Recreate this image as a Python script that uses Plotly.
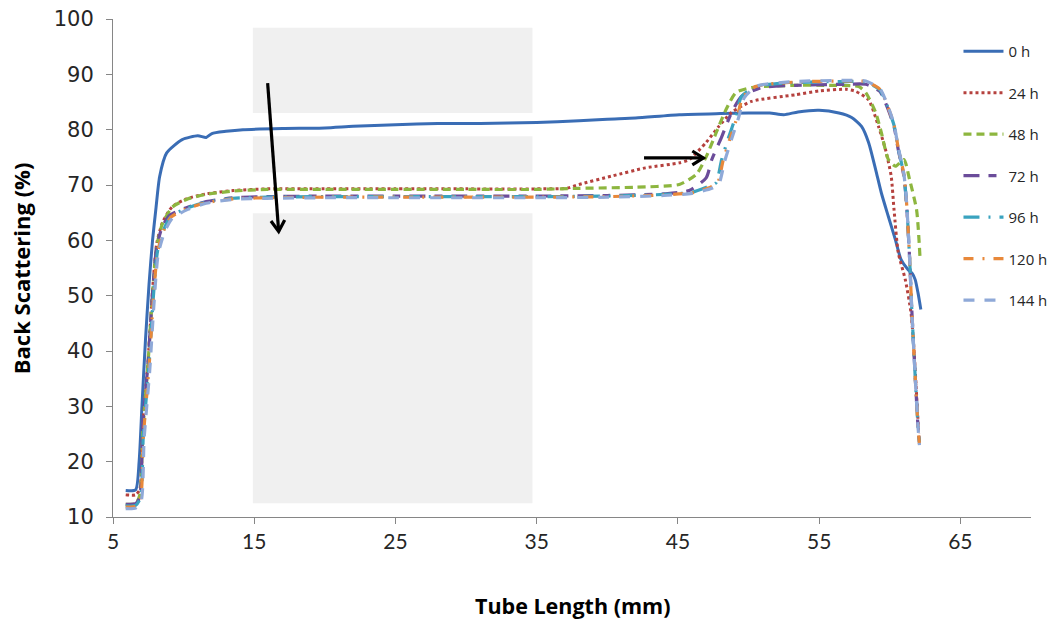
import math
import plotly.graph_objects as go

# ---------------- data ----------------
labels = ["0 h", "24 h", "48 h", "72 h", "96 h", "120 h", "144 h"]

x_0h = [5.9, 6.6, 6.85, 7.05, 7.3, 7.55, 7.8, 8.05, 8.3, 8.8, 9.9, 11.0, 11.6, 12.0, 13.0, 14.2, 17, 20, 22, 25, 28, 31, 35, 38, 40, 42, 45.1, 48, 50, 51.5, 52.5, 53.5, 55.0, 56.4, 57.3, 58.0, 58.5, 59.0, 59.4, 59.9, 60.4, 60.8, 61.3, 61.6, 61.8, 62.0, 62.2]
y_0h = [14.8, 14.9, 20, 30, 42, 52, 60, 66, 71.5, 75.8, 78.2, 78.9, 78.6, 79.3, 79.7, 80.0, 80.2, 80.3, 80.6, 80.9, 81.1, 81.1, 81.3, 81.6, 81.9, 82.1, 82.7, 82.9, 83.0, 83.0, 82.7, 83.2, 83.5, 83.0, 82.2, 80.6, 77.7, 72.8, 68.6, 64.3, 60.1, 56.5, 54.7, 54.0, 52.9, 50.5, 47.5]

x_24h = [5.9, 6.6, 6.9, 7.1, 7.5, 7.8, 8.1, 8.5, 9.2, 10.2, 11.6, 13.5, 15.9, 20, 25, 30, 35, 37.1, 38.0, 40.3, 42.7, 45.1, 45.8, 47.0, 47.9, 48.8, 50.2, 53.3, 55.0, 56.9, 57.6, 58.5, 59.2, 59.7, 60.1, 60.3, 60.6, 61.1, 61.5, 61.7, 61.9, 62.05]
y_24h = [14.0, 14.0, 15, 26, 39, 51, 59.5, 63.2, 66.1, 67.5, 68.4, 69.0, 69.3, 69.3, 69.3, 69.3, 69.3, 69.4, 70.1, 71.6, 73.1, 74.0, 74.6, 77.7, 80.6, 83.1, 85.1, 86.3, 87.0, 87.3, 86.9, 85.4, 80.6, 76.4, 71.6, 65.6, 57.8, 52.9, 47, 40.8, 32, 25]

x_48h = [5.9, 6.6, 6.9, 7.1, 7.5, 7.8, 8.1, 8.5, 9.2, 10.2, 11.6, 13.5, 15.9, 20, 25, 30, 35, 38, 42, 45.1, 46.3, 47.0, 47.7, 48.4, 49.1, 50.2, 53, 56, 57.8, 58.3, 59.0, 59.4, 59.9, 60.4, 61.0, 61.4, 61.9, 62.15]
y_48h = [12.3, 12.4, 14, 25, 38.5, 50.5, 59, 63.0, 66.0, 67.4, 68.3, 68.9, 69.2, 69.2, 69.2, 69.2, 69.2, 69.4, 69.6, 70.1, 71.9, 75.1, 79.4, 83.6, 86.7, 87.6, 88.0, 88.0, 87.8, 86.7, 83.1, 79.5, 74.6, 73.4, 74.6, 71.0, 65.5, 56.5]

x_72h = [5.9, 6.6, 6.9, 7.1, 7.5, 7.8, 8.1, 8.5, 9.0, 10.2, 11.6, 13.5, 15.9, 20, 25, 30, 35, 40, 44, 45.8, 47.0, 47.4, 48.1, 48.8, 49.5, 50.9, 53.3, 56.9, 58.3, 59.3, 59.8, 60.3, 60.6, 61.0, 61.2, 61.4, 61.55, 61.7, 61.85, 62.0, 62.1]
y_72h = [12.3, 12.4, 13.6, 26.3, 38.4, 50.5, 58.9, 62.5, 64.5, 65.9, 67.0, 67.7, 67.9, 68.0, 68.0, 68.0, 68.0, 68.1, 68.4, 69.0, 71.3, 74.6, 78.7, 83.1, 86.0, 87.6, 88.0, 88.2, 88.2, 86.9, 84.2, 80.6, 76.4, 71.6, 66.1, 57.0, 48.0, 40.2, 33.0, 26.3, 23.5]

x_96h = [5.9, 6.6, 6.95, 7.15, 7.55, 7.85, 8.15, 8.6, 9.1, 10.2, 11.6, 13.5, 15.9, 20, 25, 30, 35, 40, 44, 46.0, 47.2, 47.7, 48.1, 48.6, 49.1, 49.5, 50.5, 53.3, 56.9, 58.3, 59.3, 59.8, 60.3, 60.6, 61.0, 61.2, 61.4, 61.55, 61.7, 61.85, 62.0, 62.1]
y_96h = [12.0, 12.1, 13.5, 25, 37.5, 49.5, 58, 62, 64.3, 65.8, 66.9, 67.6, 67.8, 67.9, 67.9, 67.9, 67.9, 68.0, 68.3, 68.7, 69.8, 70.4, 74.6, 78.7, 82.4, 86.0, 87.8, 88.5, 88.7, 88.6, 87.2, 84.5, 80.8, 76.6, 71.8, 66.3, 57.0, 48.0, 40.2, 33.0, 26.3, 23.5]

x_120h = [5.9, 6.6, 6.95, 7.15, 7.55, 7.85, 8.15, 8.6, 9.1, 10.2, 11.6, 13.5, 15.9, 20, 25, 30, 35, 40, 44, 46.0, 47.3, 47.8, 48.2, 48.7, 49.2, 49.6, 50.5, 53.3, 56.9, 58.3, 59.3, 59.8, 60.3, 60.6, 61.0, 61.2, 61.4, 61.55, 61.7, 61.85, 62.0, 62.1]
y_120h = [11.8, 11.9, 13.3, 24.5, 37, 49, 57.8, 61.8, 64.2, 65.7, 66.8, 67.5, 67.7, 67.8, 67.8, 67.8, 67.8, 67.9, 68.2, 68.6, 69.6, 70.3, 74.4, 78.5, 82.3, 85.9, 87.8, 88.6, 88.8, 88.7, 87.3, 84.6, 80.9, 76.7, 71.9, 66.4, 57.0, 48.0, 40.2, 33.0, 26.3, 23.2]

x_144h = [5.9, 6.6, 7.0, 7.2, 7.6, 7.9, 8.2, 8.65, 9.2, 10.3, 11.6, 13.5, 15.9, 20, 25, 30, 35, 40, 44, 46.0, 47.4, 47.9, 48.3, 48.8, 49.3, 49.7, 50.6, 53.3, 56.9, 58.3, 59.3, 59.8, 60.3, 60.6, 61.0, 61.2, 61.4, 61.55, 61.7, 61.85, 62.0, 62.1]
y_144h = [11.5, 11.6, 13.0, 24, 36.5, 48.5, 57.5, 61.5, 64.0, 65.6, 66.7, 67.4, 67.6, 67.7, 67.7, 67.7, 67.7, 67.8, 68.1, 68.5, 69.4, 70.2, 74.2, 78.3, 82.2, 85.8, 87.9, 88.7, 88.9, 88.8, 87.4, 84.7, 81.0, 76.8, 72.0, 66.5, 57.0, 48.0, 40.2, 33.0, 26.3, 23.0]

xs = [x_0h, x_24h, x_48h, x_72h, x_96h, x_120h, x_144h]
ys = [y_0h, y_24h, y_48h, y_72h, y_96h, y_120h, y_144h]

x_ticks = [5, 15, 25, 35, 45, 55, 65]
y_ticks = [10, 20, 30, 40, 50, 60, 70, 80, 90, 100]

# highlighted region (x span) and its gray bands (y spans)
band_x = [14.9, 34.7]
band_y = [[83.0, 98.4], [72.3, 78.8], [12.5, 64.9]]

# arrows: (tail x, tail y, head x, head y)
arrows = [(15.95, 88.4, 16.73, 61.6), (42.6, 74.9, 46.8, 74.9)]

# ---------------- layout / styles ----------------
W, H = 1064, 620
M = dict(l=113, r=32, t=19, b=103)
X_RANGE = [5, 70]
Y_RANGE = [10, 100]

colors = ["#3A6DB5", "#B5413E", "#8DB63F", "#6B4C9A", "#3AA3BF", "#E8883A", "#8FA9D8"]
dashes = ["solid", "dot", "8px,5px", "16px,9px,8px,9px", "16px,9px,2px,9px", "10px,9px,2px,9px", "11px,10px"]
widths = [3, 3, 3.2, 3.2, 3.2, 3.2, 3.2]

fig = go.Figure()
for lab, x, y, c, d, w in zip(labels, xs, ys, colors, dashes, widths):
    fig.add_trace(go.Scatter(
        x=x, y=y, mode="lines", name=lab, legendgroup=lab,
        line=dict(color=c, dash=d, width=w, shape="spline", smoothing=0.6),
    ))

for y0, y1 in band_y:
    fig.add_shape(type="rect", xref="x", yref="y", x0=band_x[0], x1=band_x[1],
                  y0=y0, y1=y1, fillcolor="#F0F0F0", line=dict(width=0), layer="below")

# arrows with open chevron heads (head geometry computed in pixel space)
px_per_x = (W - M["l"] - M["r"]) / (X_RANGE[1] - X_RANGE[0])
px_per_y = (H - M["t"] - M["b"]) / (Y_RANGE[1] - Y_RANGE[0])
arm, half_angle = 13.0, math.radians(32)
for tx, ty, hx, hy in arrows:
    fig.add_shape(type="line", xref="x", yref="y", x0=tx, y0=ty, x1=hx, y1=hy,
                  line=dict(color="#000000", width=3.2))
    dxp = (hx - tx) * px_per_x
    dyp = (hy - ty) * px_per_y
    ang = math.atan2(dyp, dxp)
    pts = []
    for s in (+1, -1):
        a = ang + math.pi + s * half_angle
        pts.append((hx + arm * math.cos(a) / px_per_x, hy + arm * math.sin(a) / px_per_y))
    path = "M {},{} L {},{} L {},{}".format(pts[0][0], pts[0][1], hx, hy, pts[1][0], pts[1][1])
    fig.add_shape(type="path", xref="x", yref="y", path=path,
                  line=dict(color="#000000", width=3.2))

fig.update_layout(
    width=W, height=H,
    margin=M,
    paper_bgcolor="white", plot_bgcolor="white",
    font=dict(family="'Open Sans', Lato, sans-serif", color="#262626"),
    showlegend=True,
    legend=dict(x=0.92, y=0.968, xanchor="left", yanchor="top",
                font=dict(size=15, color="#262626", family="'Open Sans', sans-serif"),
                tracegroupgap=19, bgcolor="rgba(0,0,0,0)", itemwidth=40),
)
fig.update_xaxes(range=X_RANGE, tickvals=x_ticks, ticktext=[str(v) for v in x_ticks],
                 showgrid=False, zeroline=False, showline=True, linecolor="#868686", linewidth=1,
                 ticks="outside", ticklen=6, tickcolor="#868686", automargin=False,
                 tickfont=dict(size=21, color="#262626", family="Lato, sans-serif"))
fig.update_yaxes(range=Y_RANGE, tickvals=y_ticks,
                 showgrid=False, zeroline=False, showline=True, linecolor="#868686", linewidth=1,
                 ticks="outside", ticklen=6, tickcolor="#868686", ticklabelstandoff=8,
                 automargin=False,
                 tickfont=dict(size=21, color="#262626", family="'DejaVu Sans', sans-serif"))

# axis titles placed as paper-anchored text
fig.add_annotation(text="<b>Tube Length (mm)</b>", xref="paper", yref="paper",
                   x=0.5, y=-0.177, xanchor="center", yanchor="middle", showarrow=False,
                   font=dict(size=21.5, color="#000000", family="'Open Sans', sans-serif"))
fig.add_annotation(text="<b>Back Scattering (%)</b>", xref="paper", yref="paper",
                   x=-0.1, y=0.5, xanchor="center", yanchor="middle", showarrow=False,
                   textangle=-90,
                   font=dict(size=22, color="#000000", family="'Open Sans', sans-serif"))

fig.write_html("out.html")
